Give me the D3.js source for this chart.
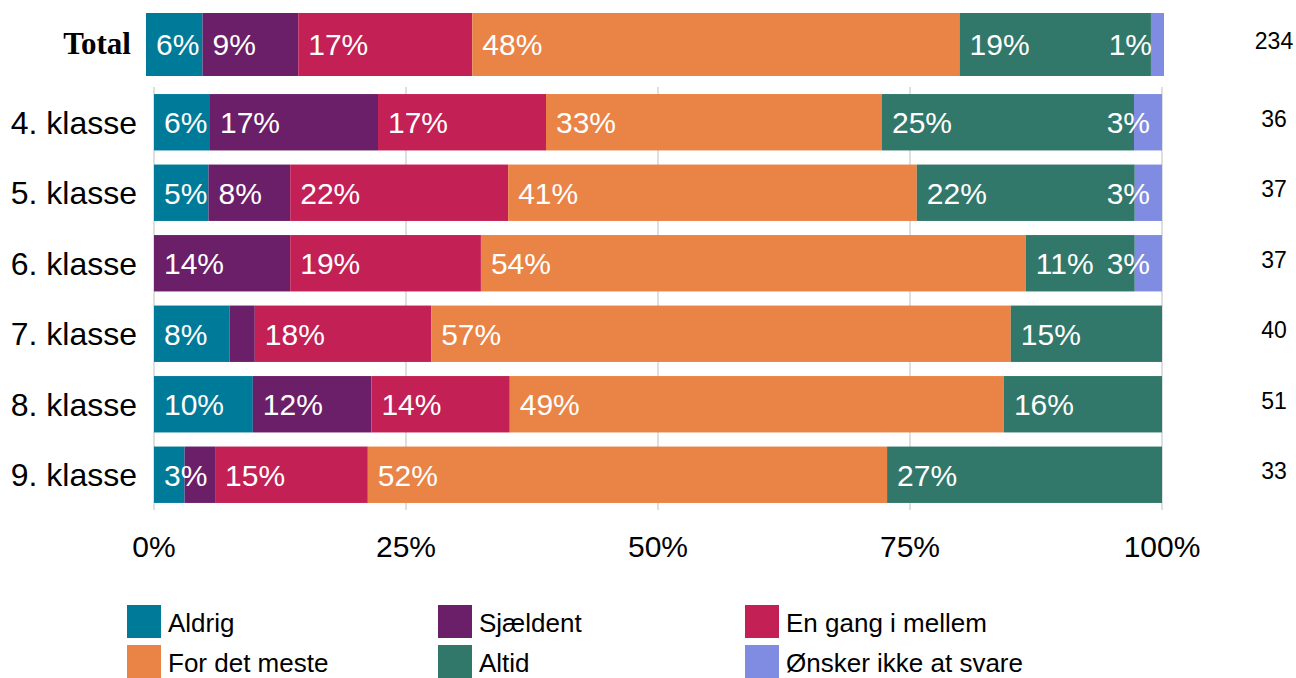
<!DOCTYPE html>
<html>
<head>
<meta charset="utf-8">
<script src="https://cdn.jsdelivr.net/npm/d3@7"></script>
<style>
  html, body { margin: 0; padding: 0; background: #fff; }
  svg { display: block; }
  text { font-family: "Liberation Sans", Arial, sans-serif; }
</style>
</head>
<body>
<svg id="chart" width="1296" height="678"></svg>
<script>
// Answer counts per grade (each row sums to the number of respondents)
const grades = ["4. klasse", "5. klasse", "6. klasse", "7. klasse", "8. klasse", "9. klasse"];
const responses = ["Aldrig", "Sjældent", "En gang i mellem", "For det meste", "Altid", "Ønsker ikke at svare"];
const colors = ["#007a99", "#6a1f68", "#c32056", "#e98346", "#31786b", "#808ce1"];

const aldrig      = [2, 2, 0, 3, 5, 1];
const sjaeldent   = [6, 3, 5, 1, 6, 1];
const enGang      = [6, 8, 7, 7, 7, 5];
const forDetMeste = [12, 15, 20, 23, 25, 17];
const altid       = [9, 8, 4, 6, 8, 9];
const oensker     = [1, 1, 1, 0, 0, 0];

const tickValues = [0, 0.25, 0.5, 0.75, 1];
const totalLabel = "Total";

const series = [aldrig, sjaeldent, enGang, forDetMeste, altid, oensker];

// One record per row: counts keyed by response, plus the row total n
function makeRow(name, counts) {
  const row = { name };
  responses.forEach((r, k) => row[r] = counts[k]);
  row.n = d3.sum(counts);
  return row;
}
const gradeRows = grades.map((g, i) => makeRow(g, series.map(s => s[i])));
const totalRow = makeRow(totalLabel, series.map(s => d3.sum(s)));

const stack = d3.stack().keys(responses).offset(d3.stackOffsetExpand);
const pct = d3.format(".0%");

const svg = d3.select("#chart");

// Scales
const x = d3.scaleLinear().domain([0, 1]).range([154, 1162]);
const xTotal = d3.scaleLinear().domain([0, 1]).range([146, 1164]);
const y = d3.scaleBand().domain(grades).range([87, 510]).paddingInner(0.2).paddingOuter(0.1);
const colour = d3.scaleOrdinal().domain(responses).range(colors);

// Vertical grid lines (extend slightly below the last bar like ticks)
svg.append("g").selectAll("line")
  .data(tickValues)
  .join("line")
  .attr("x1", d => x(d)).attr("x2", d => x(d))
  .attr("y1", 87).attr("y2", 510)
  .attr("stroke", "#c6c9cc")
  .attr("stroke-width", 1.2);

// Axis tick labels
svg.append("g").selectAll("text")
  .data(tickValues)
  .join("text")
  .attr("x", d => x(d))
  .attr("y", 557)
  .attr("text-anchor", "middle")
  .attr("font-size", 30)
  .attr("fill", "#000")
  .text(d => d3.format(".0%")(d));

// Draws one stacked row with value labels; smaller labels give way on overlap
function drawRow(g, row, xs, y0, h, labelSize) {
  const layers = stack([row]);
  const segs = layers.map((layer, k) => ({
    key: layer.key, k,
    count: row[layer.key],
    x0: xs(layer[0][0]), x1: xs(layer[0][1])
  }));
  g.selectAll("rect")
    .data(segs)
    .join("rect")
    .attr("x", d => d.x0)
    .attr("y", y0)
    .attr("width", d => Math.max(0, d.x1 - d.x0))
    .attr("height", h)
    .attr("fill", d => colour(d.key));

  const right = xs.range()[1];
  const placed = [];
  const order = segs.filter(d => d.count > 0)
    .slice().sort((a, b) => d3.descending(a.count, b.count) || d3.ascending(a.k, b.k));
  order.forEach(d => {
    const t = g.append("text")
      .attr("y", y0 + h / 2)
      .attr("dy", "0.36em")
      .attr("font-size", labelSize)
      .attr("fill", "#fff")
      .text(pct(d.count / row.n));
    const w = t.node().getComputedTextLength();
    const lx = Math.min(d.x0 + 10, right - 12 - w);
    const clash = placed.some(p => lx < p[1] && lx + w > p[0]);
    if (clash) { t.remove(); return; }
    t.attr("x", lx);
    placed.push([lx, lx + w]);
  });
}

// Total row
const gTotal = svg.append("g");
drawRow(gTotal, totalRow, xTotal, 13, 63, 30);
svg.append("text")
  .attr("x", 131).attr("y", 43).attr("dy", "0.35em")
  .attr("text-anchor", "end")
  .attr("font-size", 31)
  .attr("font-weight", "bold")
  .style("font-family", "'Liberation Serif', 'Times New Roman', serif")
  .text(totalLabel);
svg.append("text")
  .attr("x", 1274).attr("y", 41).attr("dy", "0.35em")
  .attr("text-anchor", "middle")
  .attr("font-size", 23)
  .text(totalRow.n);

// Grade rows
gradeRows.forEach(row => {
  const g = svg.append("g");
  drawRow(g, row, x, y(row.name), y.bandwidth(), 30);
});

// Category labels
svg.append("g").selectAll("text")
  .data(gradeRows)
  .join("text")
  .attr("x", 137)
  .attr("y", d => y(d.name) + y.bandwidth() / 2)
  .attr("dy", "0.36em")
  .attr("text-anchor", "end")
  .attr("font-size", 32)
  .text(d => d.name);

// Respondent counts
svg.append("g").selectAll("text")
  .data(gradeRows)
  .join("text")
  .attr("x", 1274)
  .attr("y", d => y(d.name) + y.bandwidth() / 2 - 3.5)
  .attr("dy", "0.35em")
  .attr("text-anchor", "middle")
  .attr("font-size", 23)
  .text(d => d.n);

// Legend: three columns, two rows
const legendCols = [127, 438, 745];
const legendRows = [605, 645];
const legend = svg.append("g").selectAll("g")
  .data(responses)
  .join("g")
  .attr("transform", (d, i) => `translate(${legendCols[i % 3]},${legendRows[Math.floor(i / 3)]})`);
legend.append("rect")
  .attr("width", 34).attr("height", 33)
  .attr("fill", d => colour(d));
legend.append("text")
  .attr("x", 41).attr("y", 27)
  .attr("font-size", 26)
  .text(d => d);
</script>
</body>
</html>
